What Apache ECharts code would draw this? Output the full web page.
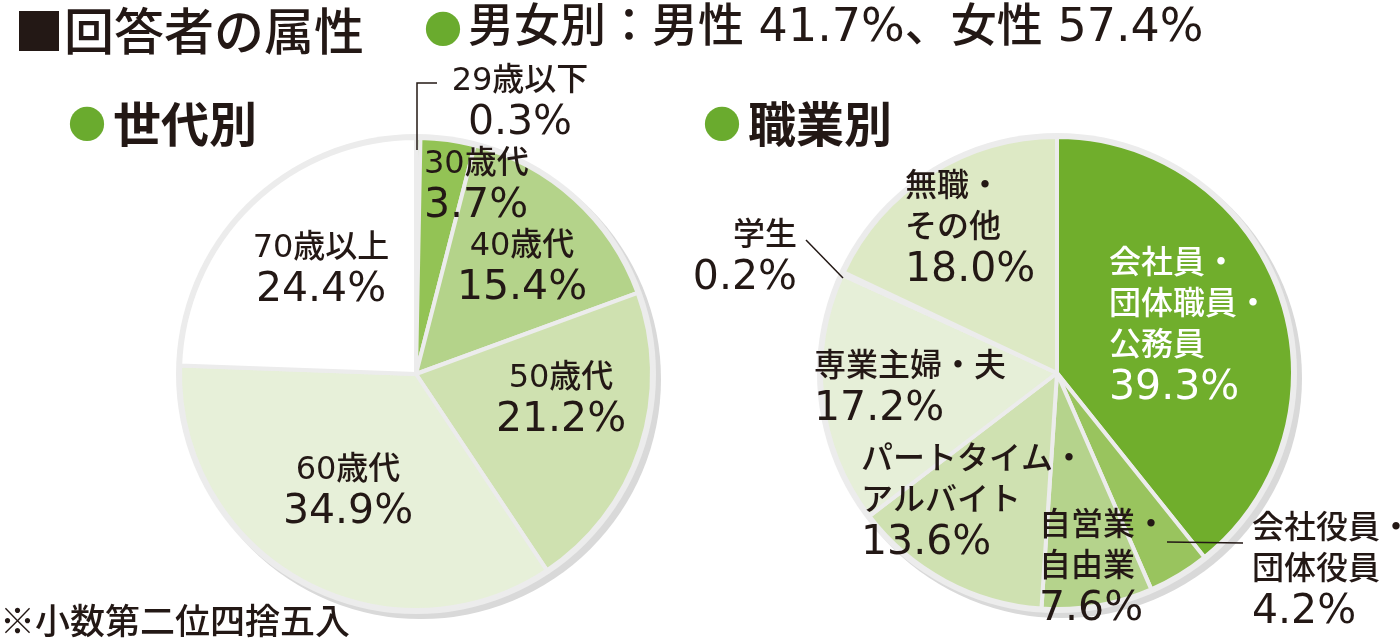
<!DOCTYPE html>
<html lang="ja">
<head>
<meta charset="UTF-8">
<title>回答者の属性</title>
<script src="https://cdn.jsdelivr.net/npm/echarts@6/dist/echarts.min.js"></script>
<style>
  html, body { margin: 0; padding: 0; background: #fff; }
  #chart { width: 1400px; height: 644px; }
</style>
</head>
<body>
<div id="chart"></div>
<script>
// 世代別
var ageNames = ['29歳以下', '30歳代', '40歳代', '50歳代', '60歳代', '70歳以上'];
var ageValues = [0.3, 3.7, 15.4, 21.2, 34.9, 24.4];
var ageColors = ['#6fae2c', '#93c355', '#b4d38a', '#cfe1b0', '#e7f0d9', '#ffffff'];

// 職業別
var jobNames = ['会社員・\n団体職員・\n公務員', '会社役員・\n団体役員', '自営業・\n自由業',
  'パートタイム・\nアルバイト', '専業主婦・夫', '学生', '無職・\nその他'];
var jobValues = [39.3, 4.2, 7.6, 13.6, 17.2, 0.2, 18.0];
var jobColors = ['#70ae2c', '#99c45e', '#b5d38c', '#cfe1b1', '#e6efd8', '#e6efd8', '#dde9c5'];

var sexText = '男女別：男性 41.7%、女性 57.4%';
var note = '※小数第二位四捨五入';

// ラベル位置 [x, y, align]
var agePos = [[520, 103, 'center'], [424, 186, 'left'], [522, 268, 'center'],
  [561, 400, 'center'], [348, 492, 'center'], [321, 270, 'center']];
var jobPos = [[1109, 327, 'left'], [1252, 571, 'left'], [1039, 568, 'left'],
  [861, 502, 'left'], [814, 389, 'left'], [797, 258, 'right'], [905, 229, 'left']];

// 引き出し線
var leaderLines = [
  [[417, 150], [417, 83], [437, 83]],
  [[1167, 542], [1243, 543]],
  [[843, 278], [806, 240]]
];

var INK = '#231815';
var GREEN = '#6aab2e';
var NUM_FONT = '"DejaVu Sans", "Noto Sans CJK JP", sans-serif';
var JP_FONT = '"Noto Sans CJK JP", sans-serif';

var labelRich = {
  n: { fontFamily: NUM_FONT, fontSize: 32, fontWeight: 500, lineHeight: 41, color: INK },
  v: { fontFamily: NUM_FONT, fontSize: 41, fontWeight: 500, lineHeight: 42, color: INK },
  nw: { fontFamily: NUM_FONT, fontSize: 32, fontWeight: 500, lineHeight: 41, color: '#fff' },
  vw: { fontFamily: NUM_FONT, fontSize: 41, fontWeight: 500, lineHeight: 42, color: '#fff' }
};

function buildData(names, values, colors, whiteIdx) {
  var res = [];
  for (var i = 0; i < names.length; i++) {
    var item = { name: names[i], value: values[i], itemStyle: { color: colors[i] } };
    if (i === whiteIdx) item.white = true;
    res.push(item);
  }
  return res;
}

function fmt(p) {
  var w = p.data.white;
  var nameLines = p.name.split('\n').map(function (s) {
    return '{' + (w ? 'nw' : 'n') + '|' + s + '}';
  });
  return nameLines.join('\n') + '\n{' + (w ? 'vw' : 'v') + '|' + p.value.toFixed(1) + '%}';
}

function layoutFn(pos) {
  return function (p) {
    var q = pos[p.dataIndex];
    return { x: q[0], y: q[1], align: q[2], verticalAlign: 'middle' };
  };
}

function backdrop(center, r, color) {
  return {
    type: 'pie', silent: true, center: center, radius: r,
    label: { show: false }, labelLine: { show: false },
    itemStyle: { color: color }, data: [1], z: 1
  };
}

function mainPie(center, data, pos) {
  return {
    type: 'pie', center: center, radius: 236, startAngle: 90, clockwise: true,
    avoidLabelOverlap: false, silent: true, z: 2,
    itemStyle: { borderColor: '#ececec', borderWidth: 4 },
    label: { show: true, position: 'inside', formatter: fmt, rich: labelRich },
    labelLine: { show: false },
    labelLayout: layoutFn(pos),
    data: data
  };
}

function dotTitle(text, left, top, size, weight, fam, gap) {
  return {
    text: '{d|●}{t|' + text + '}', left: left, top: top, padding: 0,
    textStyle: {
      fontWeight: 'normal',
      rich: {
        d: { fontFamily: JP_FONT, fontSize: 38, fontWeight: 'normal', color: GREEN, padding: [0, gap, 0, 0] },
        t: { fontFamily: fam, fontSize: size, fontWeight: weight, color: INK }
      }
    }
  };
}

var myChart = echarts.init(document.getElementById('chart'));

var option = {
  animation: false,
  backgroundColor: '#fff',
  title: [
    {
      text: '■回答者の属性', left: 14, top: 6, padding: 0,
      textStyle: { fontFamily: JP_FONT, fontSize: 50, fontWeight: 500, color: INK }
    },
    dotTitle(sexText, 424, 6, 46, 500, NUM_FONT, 6),
    dotTitle('世代別', 68, 100, 48, 'bold', JP_FONT, 7),
    dotTitle('職業別', 703, 100, 48, 'bold', JP_FONT, 7),
    {
      text: note, left: 0, top: 603, padding: 0,
      textStyle: { fontFamily: JP_FONT, fontSize: 35, fontWeight: 500, color: INK }
    }
  ],
  graphic: leaderLines.map(function (pts) {
    return {
      type: 'polyline', z: 100, silent: true,
      shape: { points: pts },
      style: { stroke: INK, lineWidth: 1.5, fill: null }
    };
  }),
  series: [
    backdrop([421, 379], 240, '#d9d9d9'),
    backdrop([416, 374], 240, '#ececec'),
    mainPie([416, 374], buildData(ageNames, ageValues, ageColors, -1), agePos),
    backdrop([1062, 378], 240, '#d9d9d9'),
    backdrop([1057, 373], 240, '#ececec'),
    mainPie([1057, 373], buildData(jobNames, jobValues, jobColors, 0), jobPos)
  ]
};

myChart.setOption(option);
</script>
</body>
</html>
